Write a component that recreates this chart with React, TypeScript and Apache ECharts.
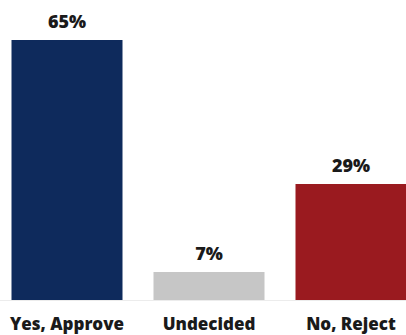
import React, { useEffect, useRef } from "react";
import * as echarts from "echarts";

const categories = ["Yes, Approve", "Undecided", "No, Reject"];
const values = [65, 7, 29];
const barColors = ["#0e2a5c", "#c6c6c6", "#9a1a1f"];

export default function App() {
  const ref = useRef<HTMLDivElement>(null);
  useEffect(() => {
    document.body.style.margin = "0";
    document.body.style.overflow = "hidden";
    const chart = echarts.init(ref.current!, null, { renderer: "svg" });
    chart.setOption({
      animation: false,
      backgroundColor: "#ffffff",
      grid: { left: 0, right: 0, top: 20, bottom: 35, containLabel: false },
      xAxis: {
        type: "category",
        data: categories,
        axisLine: { show: true, lineStyle: { color: "#ececec", width: 1 } },
        axisTick: { show: false },
        axisLabel: {
          margin: 15,
          color: "#1a1a1a",
          fontFamily: "Open Sans",
          fontWeight: 900,
          fontSize: 17,
          interval: 0,
        },
      },
      yAxis: {
        type: "value",
        min: 0,
        max: 70,
        show: false,
        splitLine: { show: false },
      },
      series: [
        {
          type: "bar",
          barWidth: 111,
          data: values.map((v, i) => ({ value: v, itemStyle: { color: barColors[i] } })),
          label: {
            show: true,
            position: "top",
            distance: 10,
            formatter: "{c}%",
            color: "#1a1a1a",
            fontFamily: "Open Sans",
            fontWeight: 900,
            fontSize: 18,
          },
        },
      ],
    });
    return () => chart.dispose();
  }, []);
  return (
    <div style={{ position: "relative", width: 406, height: 335, overflow: "hidden" }}>
      <div ref={ref} style={{ position: "absolute", left: -4, top: 0, width: 426, height: 335 }} />
    </div>
  );
}
